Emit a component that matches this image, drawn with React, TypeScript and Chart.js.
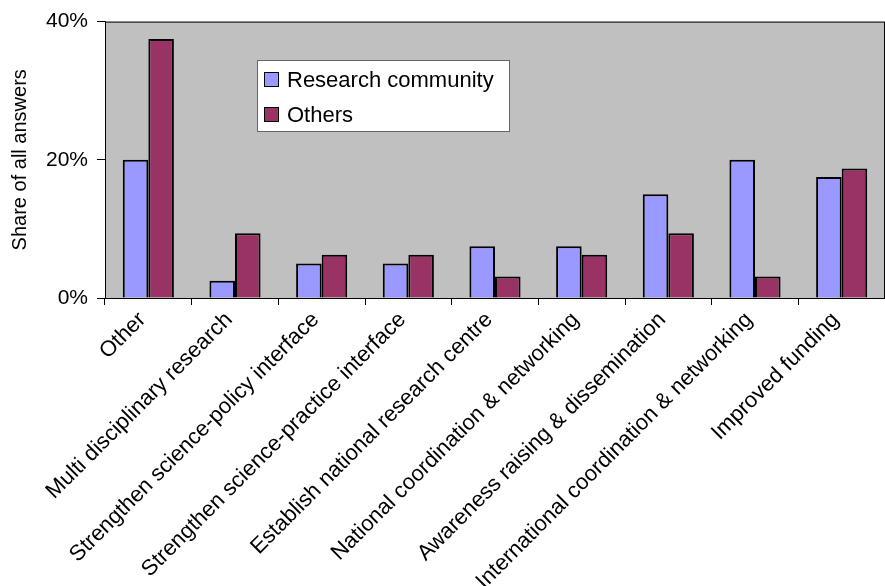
import React, { useEffect, useRef } from "react";
import { Chart, registerables } from "chart.js";

Chart.register(...registerables);

const categories = [
  "Other",
  "Multi disciplinary research",
  "Strengthen science-policy interface",
  "Strengthen science-practice interface",
  "Establish national research centre",
  "National coordination & networking",
  "Awareness raising & dissemination",
  "International coordination & networking",
  "Improved funding",
];

const researchCommunity = [20, 2.5, 5, 5, 7.5, 7.5, 15, 20, 17.5];
const others = [37.5, 9.375, 6.25, 6.25, 3.125, 6.25, 9.375, 3.125, 18.75];

const seriesNames = ["Research community", "Others"];
const seriesColors = ["#9999FF", "#993366"];
const yTicks = [0, 20, 40];
const yTitle = "Share of all answers";

const FONT = "Arial, 'Liberation Sans', Helvetica, sans-serif";

// Grey plot background and a frame around the plot area
const plotFrame = {
  id: "plotFrame",
  beforeDatasetsDraw(chart: any) {
    const { ctx, chartArea: a } = chart;
    ctx.save();
    ctx.fillStyle = "#C0C0C0";
    ctx.fillRect(a.left, a.top, a.right - a.left, a.bottom - a.top);
    ctx.restore();
  },
  afterDatasetsDraw(chart: any) {
    const { ctx, chartArea: a } = chart;
    ctx.save();
    ctx.strokeStyle = "#000";
    ctx.lineWidth = 1;
    ctx.strokeRect(a.left + 0.5, a.top + 0.5, a.right - a.left - 1, a.bottom - a.top);
    ctx.restore();
  },
};

// Boxed legend floating inside the plot area
const boxLegend = {
  id: "boxLegend",
  afterDraw(chart: any) {
    const { ctx } = chart;
    const x = 257, y = 60, w = 252, h = 71;
    ctx.save();
    ctx.fillStyle = "#fff";
    ctx.fillRect(x, y, w, h);
    ctx.strokeStyle = "#666";
    ctx.lineWidth = 1;
    ctx.strokeRect(x + 0.5, y + 0.5, w, h);
    ctx.font = `22px ${FONT}`;
    ctx.textBaseline = "middle";
    chart.data.datasets.forEach((ds: any, i: number) => {
      const cy = y + 20 + i * 35;
      ctx.fillStyle = ds.backgroundColor;
      ctx.fillRect(x + 7.5, cy - 7.5, 14, 14);
      ctx.strokeStyle = "#000";
      ctx.strokeRect(x + 7.5, cy - 7.5, 14, 14);
      ctx.fillStyle = "#000";
      ctx.fillText(ds.label, x + 30, cy + 1);
    });
    ctx.restore();
  },
};

export default function App() {
  const canvasRef = useRef<HTMLCanvasElement | null>(null);

  useEffect(() => {
    document.body.style.margin = "0";
    const canvas = canvasRef.current;
    if (!canvas) return;
    const chart = new Chart(canvas, {
      type: "bar",
      data: {
        labels: categories,
        datasets: [
          {
            label: seriesNames[0],
            data: researchCommunity,
            backgroundColor: seriesColors[0],
            borderColor: "#000",
            borderWidth: 2,
          },
          {
            label: seriesNames[1],
            data: others,
            backgroundColor: seriesColors[1],
            borderColor: "#000",
            borderWidth: 2,
          },
        ],
      },
      options: {
        responsive: false,
        animation: false,
        devicePixelRatio: 1,
        layout: { padding: { top: 21, right: 0, left: 0, bottom: 0 } },
        datasets: { bar: { categoryPercentage: 0.59, barPercentage: 1 } },
        plugins: { legend: { display: false }, tooltip: { enabled: false } },
        scales: {
          x: {
            grid: { offset: true, drawOnChartArea: false, tickLength: 7, color: "#000" },
            border: { color: "#000", width: 1 },
            ticks: {
              autoSkip: false,
              maxRotation: 45,
              minRotation: 45,
              padding: 2,
              labelOffset: -6,
              color: "#000",
              font: { family: FONT, size: 22 },
            },
            afterFit(scale: any) {
              scale.height = 288;
            },
          },
          y: {
            min: 0,
            max: 40,
            afterBuildTicks(scale: any) {
              scale.ticks = yTicks.map((v) => ({ value: v }));
            },
            grid: { drawOnChartArea: false, tickLength: 8, color: "#000" },
            border: { color: "#000", width: 1 },
            ticks: {
              padding: 9,
              color: "#000",
              font: { family: FONT, size: 21 },
              callback: (v: any) => `${v}%`,
            },
            title: {
              display: true,
              text: yTitle,
              color: "#000",
              font: { family: FONT, size: 20 },
              padding: { top: 8, bottom: 0 },
            },
            afterFit(scale: any) {
              scale.width = 105;
            },
          },
        },
      },
      plugins: [plotFrame, boxLegend],
    });
    return () => chart.destroy();
  }, []);

  return (
    <div style={{ position: "absolute", left: 0, top: 0, width: 885, height: 586, background: "#fff" }}>
      <canvas ref={canvasRef} width={885} height={586} />
    </div>
  );
}
